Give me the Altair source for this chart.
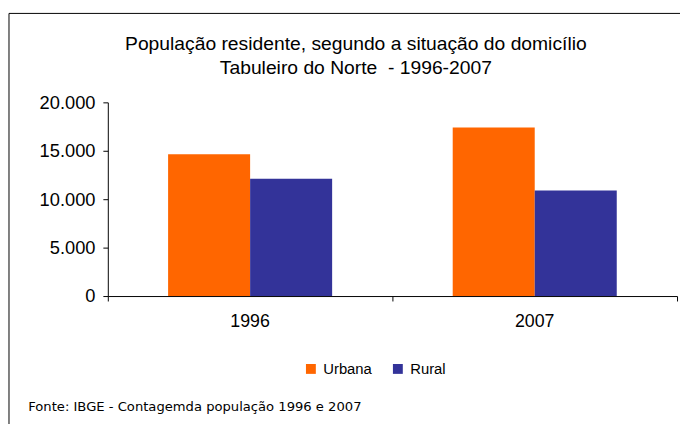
import altair as alt
import pandas as pd

anos = ["1996", "1996", "2007", "2007"]
situacao = ["Urbana", "Rural", "Urbana", "Rural"]
populacao = [14650, 12100, 17400, 10900]

df = pd.DataFrame({"ano": anos, "situacao": situacao, "pop": populacao})
frame_df = pd.DataFrame({"k": [0]})

FONT = "Liberation Sans"

bars = alt.Chart(df).mark_bar().encode(
    x=alt.X("ano:N", title="Fonte: IBGE - Contagemda população 1996 e 2007",
            scale=alt.Scale(paddingInner=0, paddingOuter=0),
            axis=alt.Axis(labelAngle=0, bandPosition=1, tickExtra=True, labelOffset=0,
                          labelFontSize=18, labelColor="black", labelPadding=12,
                          tickColor="black", tickSize=5, domainColor="black",
                          titleFont="DejaVu Sans", titleFontSize=13.3, titleFontWeight="normal",
                          titleColor="black", titleX=-81, titleY=116, titleAlign="left",
                          titleBaseline="alphabetic", titleAnchor="start")),
    xOffset=alt.XOffset("situacao:N", sort=["Urbana", "Rural"],
                        scale=alt.Scale(paddingInner=0, paddingOuter=0.735)),
    y=alt.Y("pop:Q", title=None,
            scale=alt.Scale(domain=[0, 20000]),
            axis=alt.Axis(values=[0, 5000, 10000, 15000, 20000], grid=False,
                          labelExpr="replace(format(datum.value, ',.0f'), ',', '.')",
                          labelFontSize=18.5, labelColor="black", labelPadding=8,
                          tickColor="black", tickSize=5, domainColor="black")),
    color=alt.Color("situacao:N", sort=["Urbana", "Rural"],
                    scale=alt.Scale(domain=["Urbana", "Rural"], range=["#FF6600", "#333399"]),
                    legend=alt.Legend(title=None, orient="none", direction="horizontal",
                                      legendX=198, legendY=262, symbolType="square",
                                      symbolSize=100, symbolStrokeWidth=0,
                                      labelFontSize=15, labelColor="black", labelOffset=5,
                                      columnPadding=18, padding=0)),
)

frame = alt.Chart(frame_df).mark_rect(fill=None, stroke="black", strokeWidth=1).encode(
    x=alt.value(-100), x2=alt.value(700), y=alt.value(-90), y2=alt.value(500)
)

chart = alt.layer(bars, frame).properties(
    width=576, height=196,
    title=alt.TitleParams(
        ["População residente, segundo a situação do domicílio",
         "Tabuleiro do Norte\u00a0 - 1996-2007"],
        anchor="middle", frame="group", dx=-37, offset=-66,
        fontSize=19.5, font=FONT, fontWeight="normal", color="black", lineHeight=24),
    autosize=alt.AutoSizeParams(type="none"),
    padding={"left": 101, "top": 93, "right": 3, "bottom": 127},
).configure(font=FONT).configure_view(stroke=None)

chart.save("out.html", embed_options={"renderer": "svg", "actions": False})
